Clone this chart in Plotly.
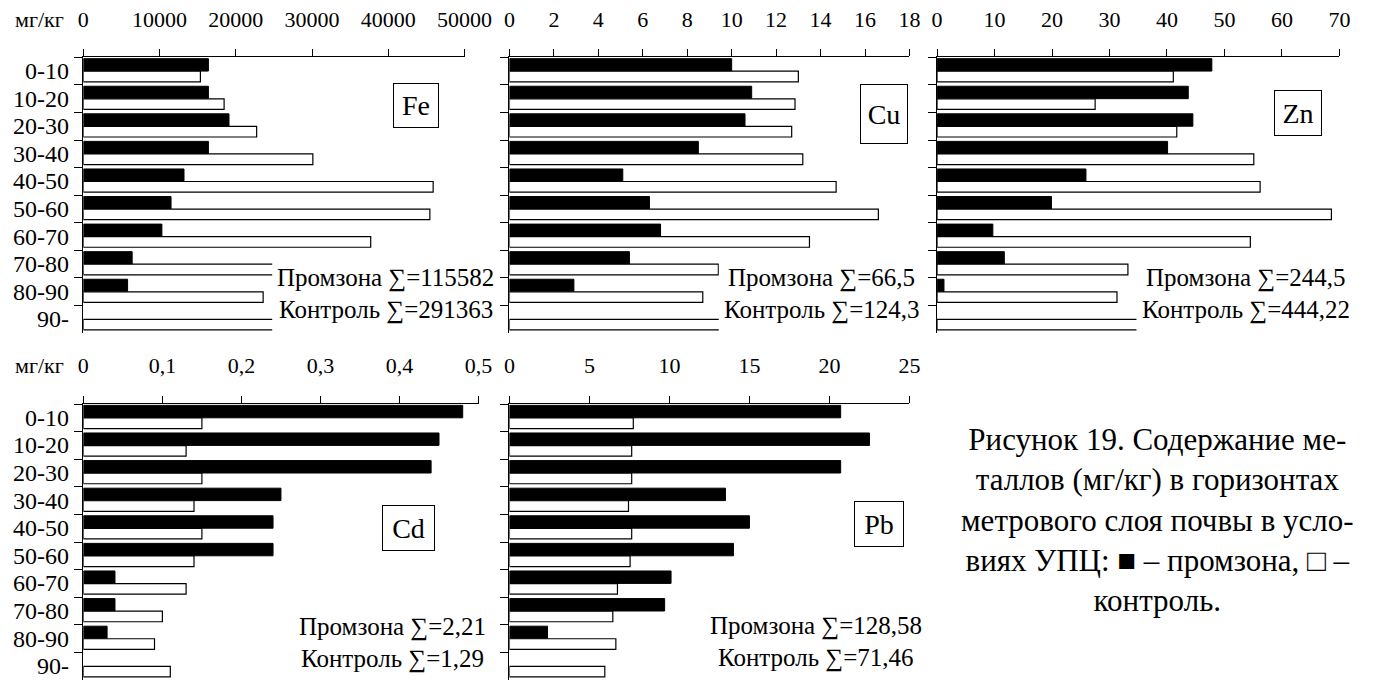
import plotly.graph_objects as go

# Soil horizons (cm)
horizons = ["0-10", "10-20", "20-30", "30-40", "40-50", "50-60", "60-70", "70-80", "80-90", "90-"]

# Metal content, mg/kg: industrial zone (black) and control (white)
fe_prom = [16400, 16400, 19100, 16400, 13200, 11500, 10300, 6400, 5800, None]
fe_ctrl = [15350, 18460, 22730, 30100, 45880, 45450, 37690, 26500, 23580, 25620]
cu_prom = [10.0, 10.9, 10.6, 8.5, 5.1, 6.3, 6.8, 5.4, 2.9, None]
cu_ctrl = [13.0, 12.85, 12.7, 13.2, 14.7, 16.6, 13.5, 9.4, 8.7, 9.65]
zn_prom = [47.8, 43.7, 44.5, 40.1, 25.9, 19.9, 9.7, 11.7, 1.2, None]
zn_ctrl = [41.1, 27.5, 41.7, 55.1, 56.2, 68.6, 54.5, 33.2, 31.3, 35.02]
cd_prom = [0.48, 0.45, 0.44, 0.25, 0.24, 0.24, 0.04, 0.04, 0.03, None]
cd_ctrl = [0.15, 0.13, 0.15, 0.14, 0.15, 0.14, 0.13, 0.10, 0.09, 0.11]
pb_prom = [20.7, 22.5, 20.7, 13.5, 15.0, 14.0, 10.1, 9.7, 2.38, None]
pb_ctrl = [7.74, 7.64, 7.64, 7.44, 7.64, 7.54, 6.75, 6.46, 6.65, 5.96]

# Axis ticks
fe_ticks = [0, 10000, 20000, 30000, 40000, 50000]
cu_ticks = [0, 2, 4, 6, 8, 10, 12, 14, 16, 18]
zn_ticks = [0, 10, 20, 30, 40, 50, 60, 70]
cd_ticks = [0, 0.1, 0.2, 0.3, 0.4, 0.5]
cd_ticktext = ["0", "0,1", "0,2", "0,3", "0,4", "0,5"]
pb_ticks = [0, 5, 10, 15, 20, 25]

# Sums shown in each panel
sum_labels = {
    "Fe": ("Промзона ∑=115582", "Контроль ∑=291363"),
    "Cu": ("Промзона ∑=66,5", "Контроль ∑=124,3"),
    "Zn": ("Промзона ∑=244,5", "Контроль ∑=444,22"),
    "Cd": ("Промзона ∑=2,21", "Контроль ∑=1,29"),
    "Pb": ("Промзона ∑=128,58", "Контроль ∑=71,46"),
}

W, H = 1397, 682
FONT = "Liberation Serif"


def px_x(a):
    return a / W


def px_y(a):
    return 1 - a / H


panels = [
    dict(name="Fe", prom=fe_prom, ctrl=fe_ctrl, ticks=fe_ticks, text=[str(t) for t in fe_ticks],
         xl=79.3, xr=470, yt=57.3, yb=333, box=(420.5, 106), bsize=(44, 43),
         sx=389, sy=(278, 310), cut=24770, labels=True),
    dict(name="Cu", prom=cu_prom, ctrl=cu_ctrl, ticks=cu_ticks, text=[str(t) for t in cu_ticks],
         xl=516, xr=926, yt=57.3, yb=333, box=(899.5, 114.5), bsize=(46, 58),
         sx=836, sy=(278, 310), cut=9.42, labels=False),
    dict(name="Zn", prom=zn_prom, ctrl=zn_ctrl, ticks=zn_ticks, text=[str(t) for t in zn_ticks],
         xl=954.3, xr=1366.7, yt=57.3, yb=333, box=(1324, 113), bsize=(46, 44),
         sx=1270.5, sy=(278, 310), cut=34.69, labels=False),
    dict(name="Cd", prom=cd_prom, ctrl=cd_ctrl, ticks=cd_ticks, text=cd_ticktext,
         xl=79.3, xr=484.3, yt=404, yb=680, box=(412.7, 528), bsize=(51, 44),
         sx=396.5, sy=(627, 659), cut=None, labels=True),
    dict(name="Pb", prom=pb_prom, ctrl=pb_ctrl, ticks=pb_ticks, text=[str(t) for t in pb_ticks],
         xl=516, xr=926, yt=404, yb=680, box=(894.3, 523.7), bsize=(48, 44),
         sx=830, sy=(626, 658), cut=None, labels=False),
]

fig = go.Figure()
layout = dict(
    width=W, height=H,
    margin=dict(l=0, r=0, t=0, b=0),
    paper_bgcolor="white", plot_bgcolor="white",
    showlegend=False, barmode="overlay",
    font=dict(family=FONT, size=22, color="black"),
)
annotations = []
shapes = []

for i, p in enumerate(panels, start=1):
    xa = "x" if i == 1 else f"x{i}"
    ya = "y" if i == 1 else f"y{i}"
    fig.add_trace(go.Bar(
        y=horizons, x=p["prom"], orientation="h",
        offset=-0.45, width=0.45,
        marker=dict(color="black", line=dict(color="black", width=1)),
        xaxis=xa, yaxis=ya, name="Промзона",
    ))
    fig.add_trace(go.Bar(
        y=horizons, x=p["ctrl"], orientation="h",
        offset=0.005, width=0.385,
        marker=dict(color="white", line=dict(color="black", width=1.2)),
        xaxis=xa, yaxis=ya, name="Контроль",
    ))
    xkey = "xaxis" if i == 1 else f"xaxis{i}"
    ykey = "yaxis" if i == 1 else f"yaxis{i}"
    layout[xkey] = dict(
        domain=[px_x(p["xl"]), px_x(p["xr"])], anchor=ya, side="top",
        range=[p["ticks"][0], p["ticks"][-1]],
        tickmode="array", tickvals=p["ticks"], ticktext=p["text"],
        showline=True, linecolor="black", linewidth=1,
        ticks="outside", ticklen=7, tickcolor="black", tickwidth=1,
        ticklabelstandoff=14,
        showgrid=False, zeroline=False,
        tickfont=dict(family=FONT, size=22, color="black"),
    )
    layout[ykey] = dict(
        domain=[px_y(p["yb"]), px_y(p["yt"])], anchor=xa,
        type="category", categoryorder="array", categoryarray=horizons,
        range=[9.5, -0.5],
        showline=True, linecolor="black", linewidth=1,
        ticks="outside", ticklen=8, tickcolor="black", tickwidth=1,
        tickson="boundaries", showticklabels=False,
        showgrid=False, zeroline=False,
    )
    # horizon labels to the left of the first-column panels
    if p["labels"]:
        for h in horizons:
            annotations.append(dict(
                text=h, xref="paper", yref=ya, x=px_x(67), y=h,
                xanchor="right", yanchor="middle", showarrow=False,
                font=dict(family=FONT, size=24, color="black"),
            ))
    # white text field over the lower right corner
    if p["cut"] is not None:
        shapes.append(dict(
            type="rect", xref=xa, yref=ya, x0=p["cut"], x1=p["ticks"][-1],
            y0=6.9, y1=9.5, fillcolor="white", line=dict(width=0), layer="above",
        ))
    # element label in a frame
    annotations.append(dict(
        text=p["name"], xref="paper", yref="paper",
        x=px_x(p["box"][0]), y=px_y(p["box"][1]), xanchor="center", yanchor="middle",
        showarrow=False, width=p["bsize"][0], height=p["bsize"][1],
        bordercolor="black", borderwidth=1, borderpad=0, bgcolor="white",
        font=dict(family=FONT, size=28, color="black"),
    ))
    for line, yy in zip(sum_labels[p["name"]], p["sy"]):
        annotations.append(dict(
            text=line, xref="paper", yref="paper",
            x=px_x(p["sx"]), y=px_y(yy), xanchor="center", yanchor="middle",
            showarrow=False, font=dict(family=FONT, size=25, color="black"),
        ))

for yy in (20, 365):
    annotations.append(dict(
        text="мг/кг", xref="paper", yref="paper", x=px_x(34), y=px_y(yy),
        xanchor="center", yanchor="middle", showarrow=False,
        font=dict(family=FONT, size=22, color="black"),
    ))

annotations.append(dict(
    text=("Рисунок 19. Содержание ме-<br>таллов (мг/кг) в горизонтах<br>"
          "метрового слоя почвы в усло-<br>виях УПЦ: ■ – промзона, □ –<br>контроль."),
    xref="paper", yref="paper", x=px_x(1180), y=px_y(520),
    xanchor="center", yanchor="middle", align="center", showarrow=False,
    font=dict(family=FONT, size=31, color="black"),
))

layout["annotations"] = annotations
layout["shapes"] = shapes
fig.update_layout(**layout)
fig.write_html("out.html")
